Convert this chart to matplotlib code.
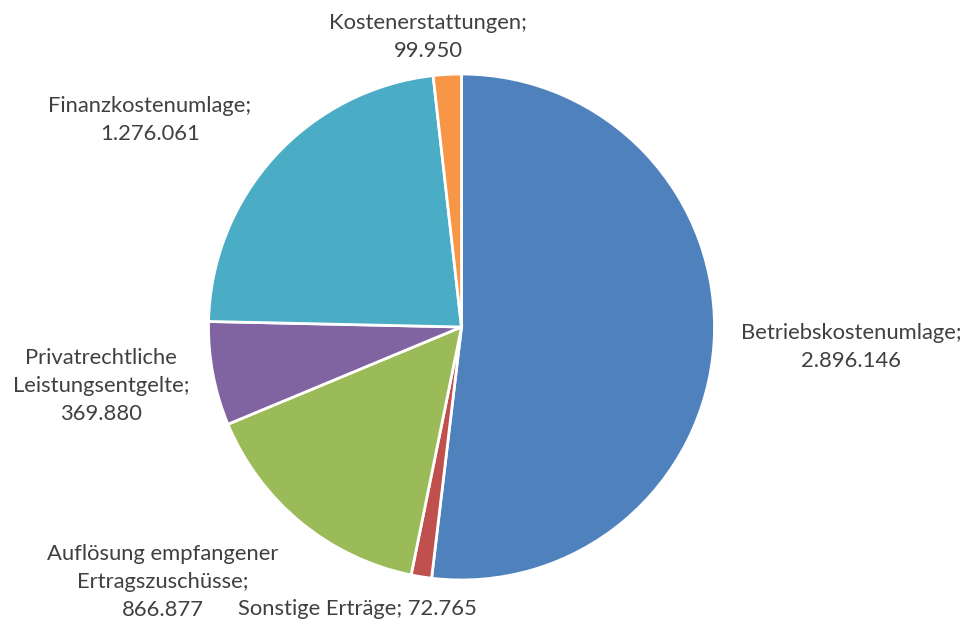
import matplotlib
matplotlib.use("Agg")
import matplotlib.pyplot as plt

categories = ["Betriebskostenumlage", "Sonstige Erträge", "Auflösung empfangener\nErtragszuschüsse",
              "Privatrechtliche\nLeistungsentgelte", "Finanzkostenumlage", "Kostenerstattungen"]
values = [2896146, 72765, 866877, 369880, 1276061, 99950]
value_labels = ["2.896.146", "72.765", "866.877", "369.880", "1.276.061", "99.950"]
colors = ["#4F81BD", "#C0504D", "#9BBB59", "#8064A2", "#4BACC6", "#F79646"]

W, H = 968, 620
cx, cy, r = 461.5, 327, 253
fig = plt.figure(figsize=(W / 100, H / 100), dpi=100)
ax = fig.add_axes([(cx - r) / W, (H - cy - r) / H, 2 * r / W, 2 * r / H])
ax.pie(values, colors=colors, startangle=90, counterclock=False,
       wedgeprops=dict(edgecolor="white", linewidth=2))
ax.set_xlim(-1, 1)
ax.set_ylim(-1, 1)
ax.set_aspect("equal")
ax.axis("off")

# label anchor: center x and first-line baseline in pixels (layout only)
label_pos = [(851, 339), (357, 615), (163, 560), (101, 364), (150, 112), (428, 29)]
label_text = [
    f"{categories[0]};\n{value_labels[0]}",
    f"{categories[1]}; {value_labels[1]}",
    f"{categories[2]};\n{value_labels[2]}",
    f"{categories[3]};\n{value_labels[3]}",
    f"{categories[4]};\n{value_labels[4]}",
    f"{categories[5]};\n{value_labels[5]}",
]
line_step = 28
for (px, py), t in zip(label_pos, label_text):
    for i, line in enumerate(t.split("\n")):
        ax.text((px - cx) / r, (cy - (py + i * line_step)) / r, line,
                ha="center", va="baseline", fontsize=15.8, family="Lato",
                color="#404040", clip_on=False)

fig.savefig("out.png", dpi=100)
